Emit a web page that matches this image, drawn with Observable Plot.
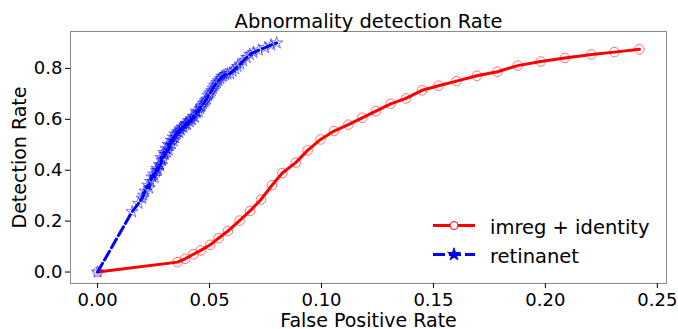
<!DOCTYPE html>
<html>
<head>
<meta charset="utf-8">
<script src="https://cdn.jsdelivr.net/npm/d3@7"></script>
<script src="https://cdn.jsdelivr.net/npm/@observablehq/plot@0.6"></script>
<style>
  html, body { margin: 0; padding: 0; background: #fff; }
  #wrap { position: relative; width: 678px; height: 329px; }
  #legend { position: absolute; left: 0; top: 0; pointer-events: none; }
</style>
</head>
<body>
<div id="wrap"></div>
<script>
// ---- data ----
const titleText = "Abnormality detection Rate";
const xLabel = "False Positive Rate";
const yLabel = "Detection Rate";
const seriesNames = ["imreg + identity", "retinanet"];

const imregX = [0, 0.0357, 0.0391, 0.0428, 0.0461, 0.0503, 0.0540, 0.0582, 0.0634, 0.0681, 0.0730, 0.0779, 0.0825, 0.0885, 0.0938, 0.0996, 0.1056, 0.1120, 0.1182, 0.1243, 0.1309, 0.1377, 0.1449, 0.1523, 0.1603, 0.1694, 0.1786, 0.1876, 0.1979, 0.2087, 0.2206, 0.2308, 0.2420];
const imregY = [0, 0.039, 0.052, 0.070, 0.085, 0.107, 0.133, 0.161, 0.202, 0.240, 0.285, 0.341, 0.389, 0.430, 0.478, 0.521, 0.554, 0.579, 0.606, 0.632, 0.661, 0.682, 0.714, 0.732, 0.750, 0.771, 0.787, 0.811, 0.827, 0.841, 0.855, 0.864, 0.875];

const retinaX = [0, 0.0154, 0.0183, 0.0200, 0.0205, 0.0212, 0.0225, 0.0230, 0.0236, 0.0243, 0.0250, 0.0255, 0.0262, 0.0265, 0.0270, 0.0276, 0.0280, 0.0287, 0.0283, 0.0295, 0.0300, 0.0296, 0.0310, 0.0306, 0.0318, 0.0322, 0.0315, 0.0332, 0.0328, 0.0340, 0.0338, 0.0347, 0.0345, 0.0354, 0.0358, 0.0365, 0.0369, 0.0372, 0.0378, 0.0384, 0.0390, 0.0395, 0.0400, 0.0406, 0.0412, 0.0418, 0.0421, 0.0428, 0.0435, 0.0443, 0.0440, 0.0452, 0.0458, 0.0462, 0.0466, 0.0472, 0.0478, 0.0483, 0.0488, 0.0494, 0.0500, 0.0505, 0.0510, 0.0516, 0.0522, 0.0528, 0.0533, 0.0540, 0.0548, 0.0555, 0.0562, 0.0570, 0.0580, 0.0592, 0.0603, 0.0614, 0.0625, 0.0637, 0.0650, 0.0666, 0.0680, 0.0696, 0.0720, 0.0748, 0.0775, 0.0800];
const retinaY = [0, 0.237, 0.270, 0.290, 0.302, 0.318, 0.341, 0.330, 0.356, 0.374, 0.385, 0.372, 0.398, 0.407, 0.400, 0.423, 0.418, 0.439, 0.450, 0.445, 0.462, 0.470, 0.472, 0.485, 0.480, 0.497, 0.502, 0.504, 0.518, 0.515, 0.530, 0.528, 0.542, 0.543, 0.552, 0.548, 0.563, 0.558, 0.570, 0.569, 0.578, 0.584, 0.580, 0.595, 0.590, 0.603, 0.598, 0.612, 0.608, 0.625, 0.632, 0.630, 0.642, 0.650, 0.654, 0.662, 0.668, 0.675, 0.680, 0.693, 0.700, 0.706, 0.713, 0.722, 0.731, 0.738, 0.745, 0.752, 0.760, 0.768, 0.771, 0.776, 0.778, 0.780, 0.790, 0.798, 0.808, 0.817, 0.830, 0.843, 0.855, 0.863, 0.872, 0.882, 0.892, 0.900];

const xTicks = [0, 0.05, 0.10, 0.15, 0.20, 0.25];
const yTicks = [0.0, 0.2, 0.4, 0.6, 0.8];

const imreg = imregX.map((x, i) => ({x, y: imregY[i]}));
const retina = retinaX.map((x, i) => ({x, y: retinaY[i]}));

const FONT = "'DejaVu Sans', 'Liberation Sans', sans-serif";

const chart = Plot.plot({
  width: 678,
  height: 329,
  marginLeft: 70,
  marginRight: 12,
  marginTop: 31,
  marginBottom: 46,
  style: {fontFamily: FONT, fontSize: "18px", color: "#000", background: "#fff", overflow: "visible"},
  x: {domain: [-0.0121, 0.2541]},
  y: {domain: [-0.045, 0.945]},
  marks: [
    Plot.frame({stroke: "#8a8a8a", strokeWidth: 1}),
    Plot.axisX(xTicks, {tickFormat: d3.format(".2f"), tickSize: 5, tickPadding: 5, fontSize: 18, label: null, stroke: "#000", fill: "#000"}),
    Plot.axisY(yTicks, {tickFormat: d3.format(".1f"), tickSize: 5, tickPadding: 3, fontSize: 18, label: null, stroke: "#000", fill: "#000"}),
    Plot.text([xLabel], {frameAnchor: "bottom", dy: 43, lineAnchor: "bottom", fontSize: 19, fill: "#000"}),
    Plot.text([yLabel], {frameAnchor: "left", dx: -51, rotate: -90, textAnchor: "middle", lineAnchor: "middle", fontSize: 19, fill: "#000"}),
    Plot.line(imreg, {x: "x", y: "y", stroke: "#ff0000", strokeWidth: 3}),
    Plot.dot(imreg, {x: "x", y: "y", r: 4.8, stroke: "#ff0000", strokeOpacity: 0.55, strokeWidth: 1, fill: "none"}),
    Plot.line(retina, {x: "x", y: "y", stroke: "#0000ff", strokeWidth: 3, strokeDasharray: "10,4"}),
    Plot.dot(retina, {x: "x", y: "y", symbol: "star", r: 3.8, stroke: "#0000ff", strokeOpacity: 0.6, strokeWidth: 0.9, fill: "none"}),
    Plot.text([titleText], {frameAnchor: "top", dy: -4, lineAnchor: "bottom", fontSize: 19.5, fill: "#000"})
  ]
});

const wrap = document.getElementById("wrap");
wrap.appendChild(chart);

// ---- legend (lower right, no frame) ----
const leg = d3.create("svg").attr("id", "legend").attr("width", 678).attr("height", 329)
  .style("font-family", FONT).style("font-size", "19.5px");
const rows = [
  {name: seriesNames[0], color: "#ff0000", dash: null, symbol: d3.symbolCircle, fill: "#fff", cy: 225.5},
  {name: seriesNames[1], color: "#0000ff", dash: "12,4", symbol: d3.symbolStar, fill: "#0000ff", cy: 254.5}
];
rows.forEach(r => {
  leg.append("line").attr("x1", 433).attr("x2", 475).attr("y1", r.cy).attr("y2", r.cy)
    .attr("stroke", r.color).attr("stroke-width", 3).attr("stroke-dasharray", r.dash);
  leg.append("path").attr("transform", `translate(454,${r.cy})`)
    .attr("d", d3.symbol(r.symbol, Math.PI * 4 * 4)())
    .attr("fill", r.fill)
    .attr("stroke", r.color).attr("stroke-width", 1);
  leg.append("text").attr("x", 490).attr("y", r.cy + 8.5).attr("fill", "#000").text(r.name);
});
wrap.appendChild(leg.node());
</script>
</body>
</html>
